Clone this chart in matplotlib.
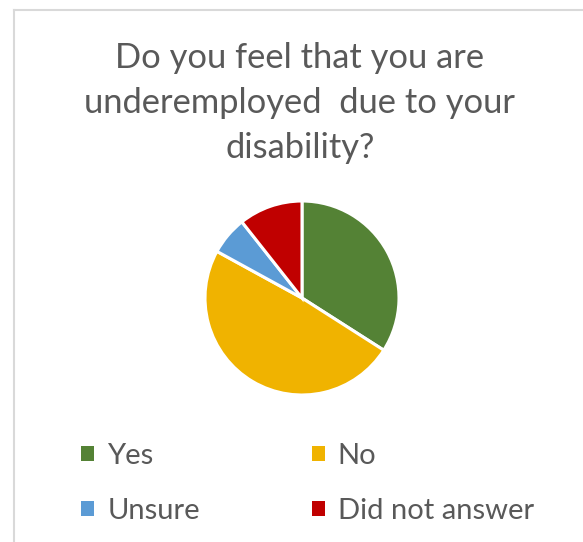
import matplotlib.pyplot as plt
from matplotlib.lines import Line2D
from matplotlib.patches import Patch

title = "Do you feel that you are\nunderemployed  due to your\ndisability?"
labels = ['Yes', 'No', 'Unsure', 'Did not answer']
counts = [16, 23, 3, 5]
colors = ['#548235', '#F0B300', '#5B9BD5', '#C00000']

plt.rcParams['font.family'] = ['Lato', 'DejaVu Sans']
text_color = '#595959'

W, H = 583, 542
fig = plt.figure(figsize=(W / 100, H / 100), dpi=100)
fig.patch.set_facecolor('white')

# chart frame: only the top and left borders are in view
fig.add_artist(Line2D([13.5 / W, 13.5 / W], [0, 1 - 9.5 / H], color='#D9D9D9', lw=1.5))
fig.add_artist(Line2D([13.5 / W, 1], [1 - 9.5 / H, 1 - 9.5 / H], color='#D9D9D9', lw=1.5))

fig.text(300 / W, 1 - 103 / H, title, ha='center', va='center', fontsize=24.8,
         color=text_color, linespacing=1.5)

cx, cy, r = 302, 298, 97
ax = fig.add_axes([(cx - r) / W, 1 - (cy + r) / H, 2 * r / W, 2 * r / H])
ax.pie(counts, colors=colors, startangle=90, counterclock=False,
       wedgeprops=dict(edgecolor='white', linewidth=2.2))
ax.set_xlim(-1.0, 1.0)
ax.set_ylim(-1.0, 1.0)
ax.axis('off')

# legend in two columns, read across the rows
order = [0, 2, 1, 3]
handles = [Patch(facecolor=colors[i], edgecolor='none') for i in order]
leg = fig.legend(handles, [labels[i] for i in order], ncol=2,
                 loc='upper left', bbox_to_anchor=(81 / W, 1 - 443 / H),
                 frameon=False, fontsize=21, borderpad=0, borderaxespad=0,
                 handlelength=0.45, handleheight=0.45,
                 handletextpad=0.45, columnspacing=3.83, labelspacing=0.99,
                 labelcolor=text_color)

fig.savefig('out.png', dpi=100)
